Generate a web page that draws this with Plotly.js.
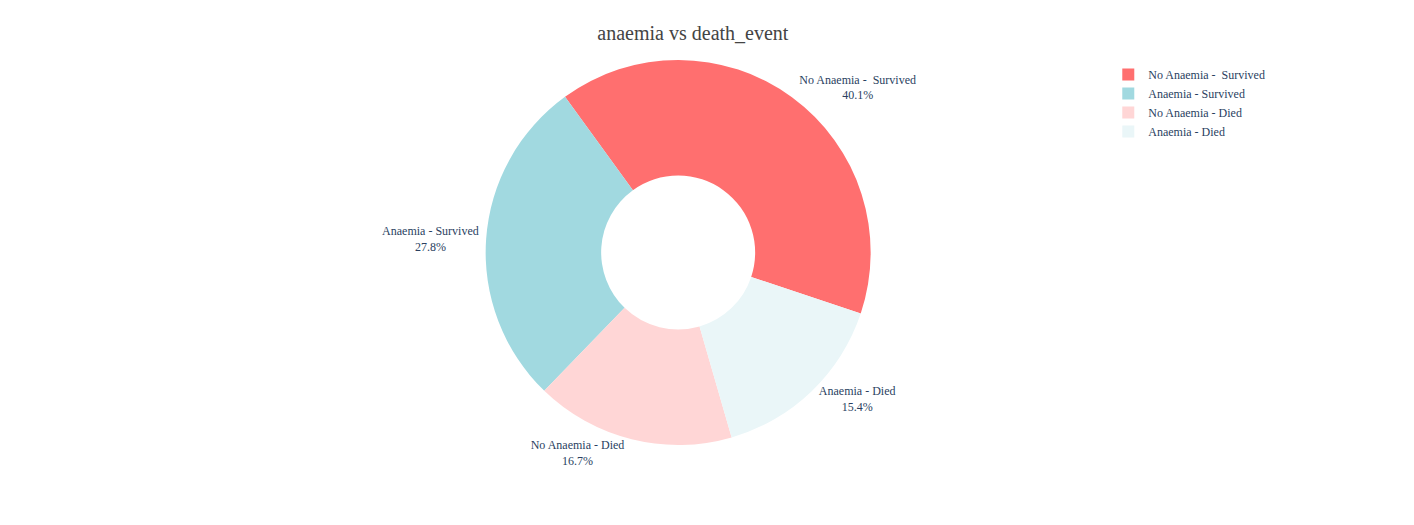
<!DOCTYPE html>
<html>
<head>
<meta charset="utf-8">
<script src="https://cdn.plot.ly/plotly-3.0.1.min.js"></script>
</head>
<body style="margin:0">
<div id="chart" style="width:1414px;height:525px"></div>
<script>
const labels = ['No Anaemia -  Survived', 'Anaemia - Survived', 'No Anaemia - Died', 'Anaemia - Died'];
const values = [120, 83, 50, 46];
const colors = ['#FF6F6F', '#A1D9E0', '#FFD6D6', '#EAF6F8'];

const trace = {
    type: 'pie',
    labels: labels,
    values: values,
    hole: 0.4,
    direction: 'counterclockwise',
    rotation: -36,
    textinfo: 'label+percent',
    textposition: 'outside',
    marker: { colors: colors },
    outsidetextfont: { color: '#2a3f5f' },
    domain: { x: [0.2, 0.754], y: [0, 1] }
};

const layout = {
    title: { text: 'anaemia vs death_event', x: 0.49, y: 0.95, font: { size: 20, color: '#444' } },
    font: { family: 'Liberation Serif, Times New Roman, serif', size: 12, color: '#2a3f5f' },
    margin: { t: 60, b: 80, l: 80, r: 80 },
    legend: { x: 0.82, y: 1, xanchor: 'left' },
    paper_bgcolor: 'white'
};

Plotly.newPlot('chart', [trace], layout, { displayModeBar: false });
</script>
</body>
</html>
